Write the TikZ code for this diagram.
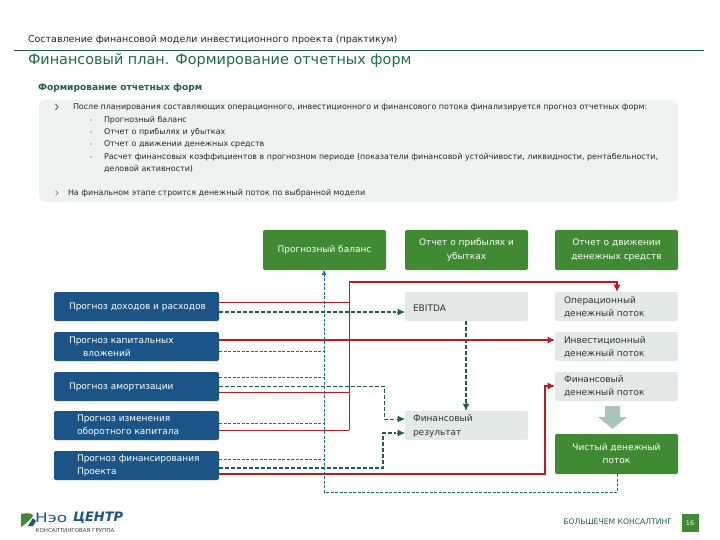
\documentclass[tikz,border=0pt]{standalone}
\usepackage{fontspec}
\setmainfont{DejaVu Sans}
\usetikzlibrary{arrows.meta}
\definecolor{blu}{HTML}{1B5487}
\definecolor{grn}{HTML}{3F8A33}
\definecolor{gry}{HTML}{E3E9E7}
\definecolor{pale}{HTML}{F0F1F1}
\definecolor{redl}{HTML}{C8161D}
\definecolor{tealb}{HTML}{1C6A8C}
\definecolor{dgrn}{HTML}{1F5F50}
\definecolor{fat}{HTML}{A9C4B8}
\newcommand{\lblfont}{\fontsize{9}{13.2}\selectfont}
\tikzset{
 every node/.style={inner sep=0pt,outer sep=0pt},
 boxg/.style={fill=grn,rounded corners=2pt,text=white,font=\lblfont,align=center,anchor=north west,minimum width=123pt,minimum height=40pt},
 boxl/.style={fill=gry,rounded corners=2pt,anchor=north west,minimum width=123pt,minimum height=29pt},
 boxb/.style={fill=blu,rounded corners=2pt,anchor=north west,minimum width=165pt,minimum height=29pt},
 lblb/.style={anchor=west,text=white,font=\lblfont,align=left},
 lbll/.style={anchor=west,text=black!80,font=\lblfont,align=left},
 rthin/.style={draw=redl,line width=0.8pt},
 rthick/.style={draw=redl,line width=1.5pt},
 rtip/.style={-{Latex[length=7.5pt,width=7.5pt]}},
 tdash/.style={draw=tealb,line width=0.7pt,dash pattern=on 3pt off 1.5pt},
 gdash/.style={draw=dgrn,line width=0.8pt,dash pattern=on 4pt off 2pt},
 gdashb/.style={draw=dgrn,line width=1.2pt,dash pattern=on 4pt off 2pt},
 gtip/.style={-{Latex[length=7.5pt,width=7pt]}},
 txt/.style={anchor=west,font=\fontsize{7.95}{9}\selectfont,text=black!85},
 chev/.style={draw=grn,line width=1pt},
}
\begin{document}
\begin{tikzpicture}[x=1pt,y=-1pt]
\useasboundingbox (0,0) rectangle (720,540);
\fill[white] (0,0) rectangle (720,540);
% header
\node[anchor=west,font=\fontsize{9.5}{11}\selectfont,text=black!85] (hdr) at (28,40) {Составление финансовой модели инвестиционного проекта (практикум)};
\coordinate (rl) at (14,50); \coordinate (rr) at (704,50);
\draw[draw=dgrn,line width=0.9pt] (rl) -- (rr);
\node[anchor=west,font=\fontsize{14.4}{16}\selectfont,text=dgrn!90!green] (ttl) at (28,61) {Финансовый план. Формирование отчетных форм};
\node[anchor=west,font=\fontsize{9.1}{11}\bfseries\selectfont,text=dgrn] (sub) at (38,88) {Формирование отчетных форм};
% grey panel
\fill[pale,rounded corners=6pt] (39,100) rectangle (678,202);
\draw[chev] (55.5,104) -- (58,107) -- (55.5,110);
\draw[chev,line width=0.7pt] (55.5,190.5) -- (58,193) -- (55.5,195.5);
\node[txt] (t1) at (73,107) {После планирования составляющих операционного, инвестиционного и финансового потока финализируется прогноз отчетных форм:};
\node[txt] (b1) at (104,120) {Прогнозный баланс};
\node[txt] (b2) at (104,132) {Отчет о прибылях и убытках};
\node[txt] (b3) at (104,144) {Отчет о движении денежных средств};
\node[txt] (b4) at (104,157) {Расчет финансовых коэффициентов в прогнозном периоде (показатели финансовой устойчивости, ликвидности, рентабельности,};
\node[txt] (b5) at (104,169) {деловой активности)};
\node[txt] (t2) at (68,193) {На финальном этапе строится денежный поток по выбранной модели};
\foreach \yy in {120,132,144,157} \fill[black!45] (91,\yy) circle (0.8pt);
% green heads
\node[boxg] (g1) at (263,230) {Прогнозный баланс};
\node[boxg] (g2) at (405,230) {Отчет о прибылях и\\убытках};
\node[boxg] (g3) at (555,230) {Отчет о движении\\денежных средств};
\node[boxg] (g4) at (555,434) {Чистый денежный\\поток};
% blue boxes
\node[boxb] (p1) at (54,292) {};
\node[boxb] (p2) at (54,332) {};
\node[boxb] (p3) at (54,372) {};
\node[boxb] (p4) at (54,411) {};
\node[boxb] (p5) at (54,451) {};
\node[lblb] (a1) at (69,307) {Прогноз доходов и расходов};
\node[lblb] (a2) at (69,347) {Прогноз капитальных\\\hspace*{14pt}вложений};
\node[lblb] (a3) at (69,387) {Прогноз амортизации};
\node[lblb] (a4) at (77,426) {Прогноз изменения\\оборотного капитала};
\node[lblb] (a5) at (77,466) {Прогноз финансирования\\Проекта};
% light boxes
\node[boxl] (eb) at (405,292) {}; \node[lbll] (ebt) at (413,308) {EBITDA};
\node[boxl] (fr) at (405,411) {}; \node[lbll] (frt) at (413,426) {Финансовый\\результат};
\node[boxl] (op) at (555,292) {}; \node[lbll] (opt) at (564,307) {Операционный\\денежный поток};
\node[boxl] (iv) at (555,332) {}; \node[lbll] (ivt) at (564,347) {Инвестиционный\\денежный поток};
\node[boxl] (fn) at (555,372) {}; \node[lbll] (fnt) at (564,386) {Финансовый\\денежный поток};
% fat arrow
\fill[fat] (605,406) -- (620,406) -- (620,417) -- (627,417) -- (612.5,429) -- (598,417) -- (605,417) -- cycle;
% teal dashed
\coordinate (bl) at (324,492); \coordinate (br) at (617,492);
\coordinate (gb) at (617,474); \coordinate (g1b) at (324,270);
\draw[tdash] (gb) -- (br) -- (bl) -- (324,276);
\draw[tealb,-{Latex[length=5pt,width=5pt]},line width=0.7pt] (324,277) -- (g1b);
\draw[tdash] (p2.east |- 0,351) -- (324,351);
\draw[tdash] (p3.east |- 0,377) -- (324,377);
\draw[tdash] (p4.east |- 0,423) -- (324,423);
\draw[tdash] (p5.east |- 0,459) -- (324,459);
% green dashed
\draw[gdashb] (p1.east |- 0,312) -- (396,312);
\draw[dgrn,gtip,line width=1pt] (397,312) -- (eb.west |- 0,312);
\draw[gdash] (p3.east |- 0,386) -- (384,386) -- (384,419) -- (396,419);
\draw[dgrn,gtip,line width=1pt] (397,419) -- (fr.west |- 0,419);
\draw[gdashb] (p5.east |- 0,468) -- (383,468) -- (383,433) -- (396,433);
\draw[dgrn,gtip,line width=1pt] (397,433) -- (fr.west |- 0,433);
\draw[gdashb] (466,321) -- (466,403);
\draw[dgrn,gtip,line width=1pt] (466,403) -- (466,411);
% red
\draw[rthin] (p1.east |- 0,302) -- (349,302);
\draw[rthin] (p3.east |- 0,392) -- (349,392);
\draw[rthin] (p4.east |- 0,430) -- (349,430);
\draw[rthin] (349,430) -- (349,282);
\draw[rthick,rtip] (349,282) -- (617,282) -- (op.north -| 617,292);
\draw[rthick,rtip] (p2.east |- 0,340) -- (iv.west |- 0,340);
\draw[rthick,rtip] (p5.east |- 0,474) -- (545,474) -- (545,386) -- (fn.west |- 0,386);
% footer
\fill[grn] (21,514) .. controls (28,512.5) and (33,513.5) .. (33,516) .. controls (31,519) and (27,523) .. (21,527) -- cycle;
\fill[blu] (28,526) -- (33,518) -- (36,521) -- (33,526) -- cycle;
\node[anchor=west,font=\fontsize{13}{14}\selectfont,text=blu] (lg1) at (35,518) {\scalebox{1.3}[1]{Нэо}};
\node[anchor=west,font=\fontsize{13}{14}\bfseries\itshape\selectfont,text=blu] (lg2) at (73,518) {ЦЕНТР};
\node[anchor=center,font=\fontsize{5.5}{6}\selectfont,text=black!75] (lg3) at (75,530) {КОНСАЛТИНГОВАЯ ГРУППА};
\node[anchor=east,font=\fontsize{7.65}{9}\selectfont,text=dgrn] (ft) at (672,522) {БОЛЬШЕЧЕМ КОНСАЛТИНГ};
\node[fill=grn,minimum width=17pt,minimum height=18pt,font=\fontsize{6.5}{8}\selectfont,text=white!90!green] (pg) at (690,523) {16};
\end{tikzpicture}
\end{document}
